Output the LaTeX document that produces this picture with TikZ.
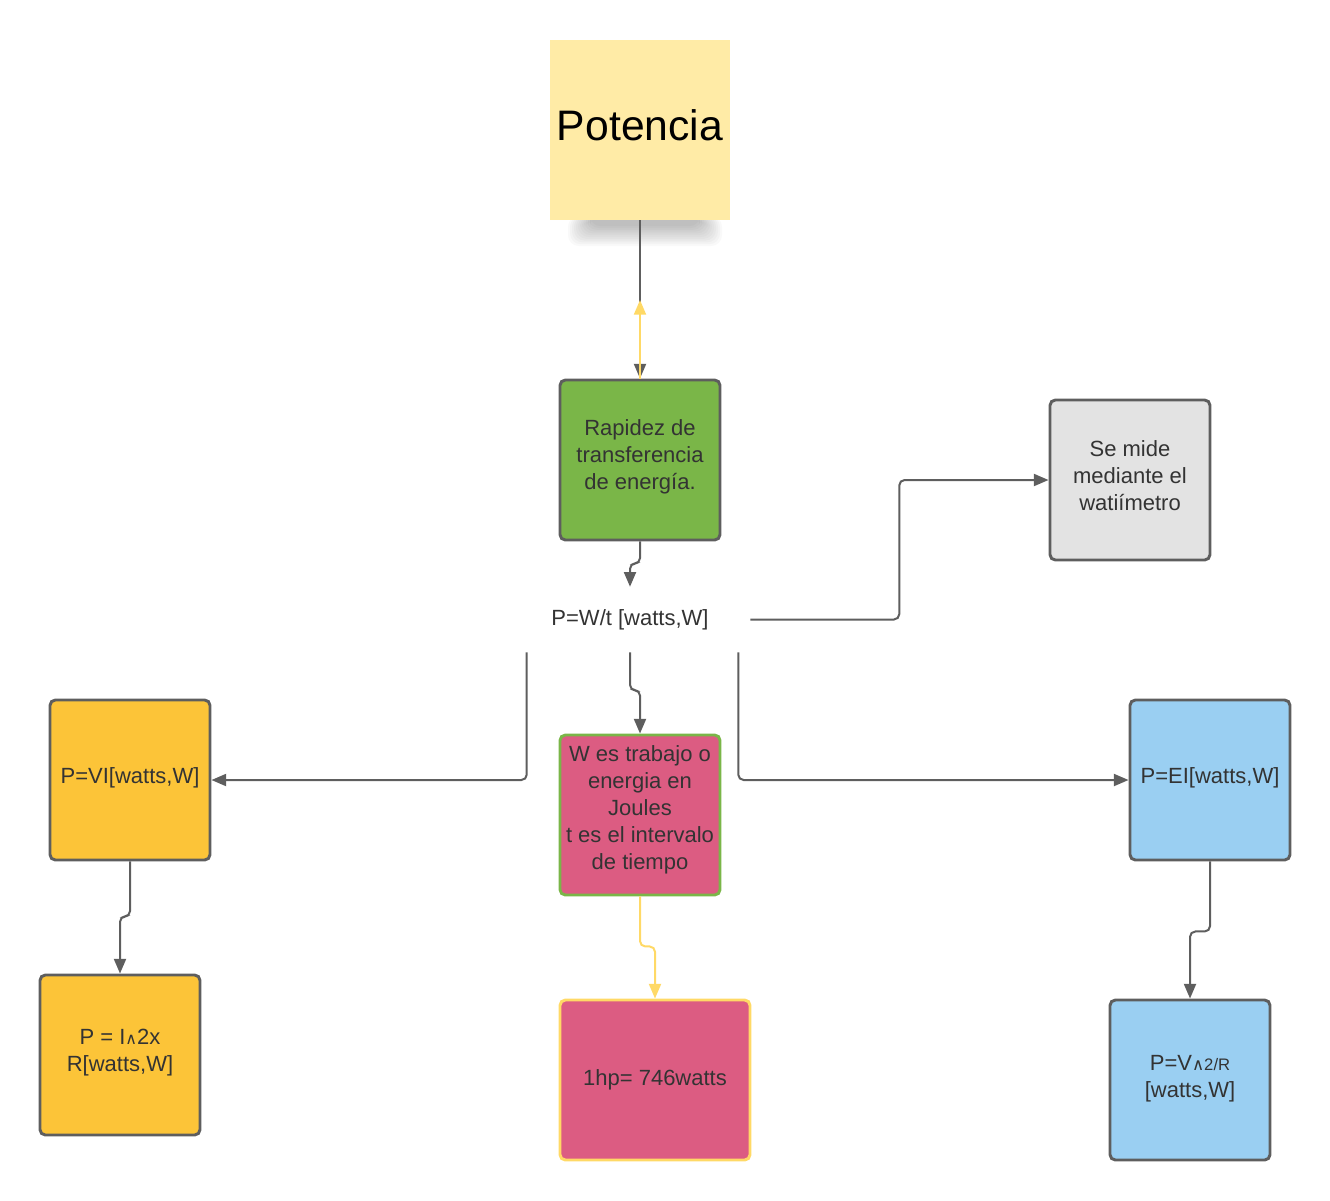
\documentclass[tikz,border=0pt]{standalone}
\usepackage{fontspec}
\setmainfont{Liberation Sans}
\newfontfamily\djv{DejaVu Sans}
\usetikzlibrary{arrows.meta,calc}

\definecolor{potfill}{HTML}{FFEBA6}
\definecolor{grnfill}{HTML}{7AB648}
\definecolor{gryfill}{HTML}{E3E3E3}
\definecolor{ylwfill}{HTML}{FCC438}
\definecolor{pnkfill}{HTML}{DC5C82}
\definecolor{blufill}{HTML}{9ACFF2}
\definecolor{edge}{HTML}{5E5E5E}
\definecolor{txt}{HTML}{333333}
\definecolor{ylwline}{HTML}{FFD966}

\newcommand{\boxfont}{\fontsize{16.5}{20.25}\selectfont}

\tikzset{
  card/.style={rectangle, rounded corners=4pt, draw=edge, line width=2.2pt,
    minimum width=120pt, minimum height=120pt, align=center, text=txt,
    font=\boxfont, inner sep=2pt},
  conn/.style={draw=edge, line width=1.5pt, rounded corners=4pt,
    -{Triangle[length=11pt,width=9pt]}},
  yconn/.style={conn, draw=ylwline, -{Triangle[length=11pt,width=9pt,fill=ylwline]}},
}

\begin{document}
\begin{tikzpicture}[x=0.75pt,y=-0.75pt]
\useasboundingbox (0,0) rectangle (1330,1200);

% soft shadow under the title sheet
\foreach \i in {0,...,11}
  \fill[black,opacity=0.022,rounded corners=8pt]
    (568+\i*2,216) rectangle (722-\i*2,246-\i*1.8);

% title
\node[rectangle, fill=potfill, minimum width=135pt, minimum height=135pt,
      inner sep=0pt, font=\fontsize{32}{38}\selectfont, text=black,
      text depth=7.5pt]
  (pot) at (640,130) {Potencia};

% boxes
\node[card, fill=grnfill, text depth=8pt] (g) at (640,460)
  {Rapidez de\\transferencia\\de energía.};
\node[card, fill=gryfill, text depth=6pt] (gr) at (1130,480)
  {Se mide\\mediante el\\watiímetro};
\node[text=txt, font=\boxfont, minimum width=180pt, minimum height=48.75pt,
      inner sep=0pt] (f) at (630,619.5) {P=W/t [watts,W]};
\node[card, fill=ylwfill, text depth=6.5pt] (yl) at (130,780) {P=VI[watts,W]};
\node[card, fill=pnkfill, draw=grnfill, text depth=11pt] (pk) at (640,815)
  {W es trabajo o\\energia en\\Joules\\t es el intervalo\\de tiempo};
\node[card, fill=blufill, text depth=6.5pt] (bl) at (1210,780) {P=EI[watts,W]};
\node[card, fill=ylwfill, text depth=6.5pt] (yl2) at (120,1055)
  {P = I{\djv\fontsize{12}{12}\selectfont ∧}2x\\R[watts,W]};
\node[card, fill=pnkfill, draw=ylwline, minimum width=142.5pt] (pk2) at (655,1080)
  {1hp= 746watts};
\node[card, fill=blufill, text depth=6pt] (bl2) at (1190,1080)
  {P=V{\fontsize{12.5}{12}\selectfont{\djv ∧}2/R}\\{[watts,W]}};

% connectors
\coordinate (mid) at (640,300);
\draw[conn] (pot.south) -- (g.north);
\draw[yconn] (g.north) -- (mid);
\draw[conn] (g.south) -- ++(0,22) -| (f.north);
\draw[conn] (f.east) -- ++(149,0) |- (gr.west);
\draw[conn] ($(f.south west)+(17,0)$) |- (yl.east);
\draw[conn] (f.south) -- ++(0,38) -| (pk.north);
\draw[conn] ($(f.south east)+(-12,0)$) |- (bl.west);
\draw[conn] (yl.south) -- ++(0,55) -| (yl2.north);
\draw[yconn] (pk.south) -- ++(0,50) -| (pk2.north);
\draw[conn] (bl.south) -- ++(0,70) -| (bl2.north);
\end{tikzpicture}
\end{document}
